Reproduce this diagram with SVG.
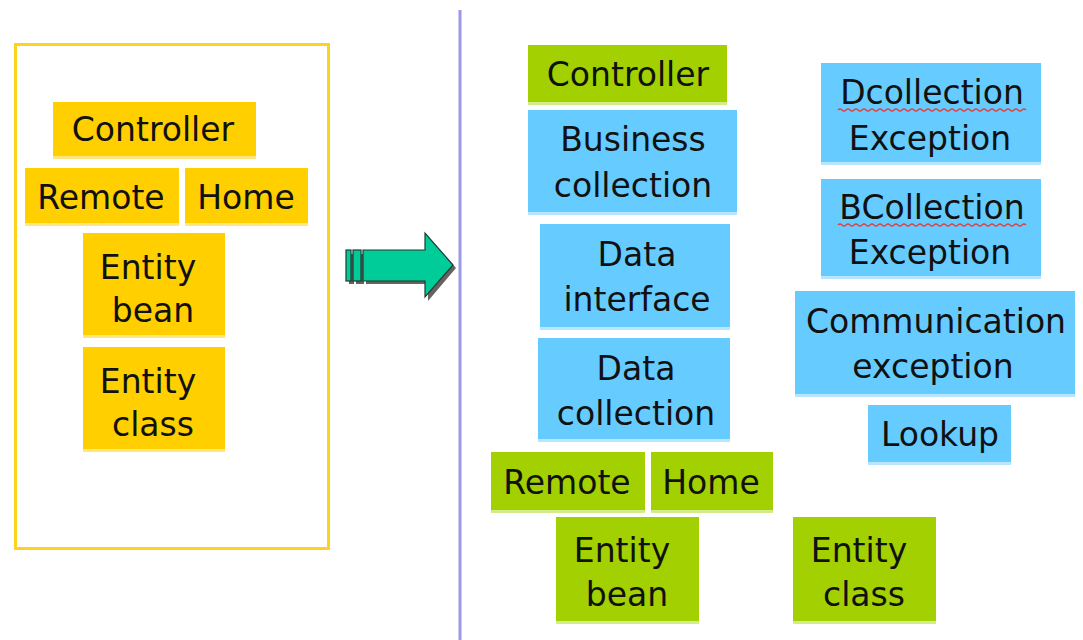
<svg xmlns="http://www.w3.org/2000/svg" width="1083" height="640" viewBox="0 0 1083 640">
  <style>
    .lbl { font-family: "Comic Sans MS", "DejaVu Sans", sans-serif; font-size: 33px; fill: #111; text-anchor: middle; }
    .yel { fill: #FFCF00; }
    .grn { fill: #A2D000; }
    .blu { fill: #66CCFF; }
    .yel-e { fill: #FFE680; }
    .grn-e { fill: #D4EB8A; }
    .blu-e { fill: #B8E6FF; }
    .squig { fill: none; stroke: #E04040; stroke-width: 1.3; }
  </style>
  <rect width="1083" height="640" fill="#FFFFFF"/>

  <!-- left frame -->
  <rect x="15.5" y="44.5" width="313" height="504" fill="none" stroke="#FFD21F" stroke-width="3"/>

  <!-- divider -->
  <line x1="460" y1="10" x2="460" y2="640" stroke="#9A9AE6" stroke-width="3"/>

  <!-- left column -->
  <g id="l-controller">
    <rect class="yel-e" x="53" y="104" width="203" height="55"/>
    <rect class="yel" x="53" y="102" width="203" height="54"/>
    <text class="lbl" x="153" y="141">Controller</text>
  </g>
  <g id="l-remote">
    <rect class="yel-e" x="25" y="170" width="154" height="56"/>
    <rect class="yel" x="25" y="168" width="154" height="55"/>
    <text class="lbl" x="101" y="209">Remote</text>
  </g>
  <g id="l-home">
    <rect class="yel-e" x="185" y="170" width="123" height="56"/>
    <rect class="yel" x="185" y="168" width="123" height="55"/>
    <text class="lbl" x="246" y="209">Home</text>
  </g>
  <g id="l-entity-bean">
    <rect class="yel-e" x="83" y="235" width="142" height="103"/>
    <rect class="yel" x="83" y="233" width="142" height="102"/>
    <text class="lbl" x="148" y="279">Entity</text>
    <text class="lbl" x="153" y="322">bean</text>
  </g>
  <g id="l-entity-class">
    <rect class="yel-e" x="83" y="349" width="142" height="103"/>
    <rect class="yel" x="83" y="347" width="142" height="102"/>
    <text class="lbl" x="148" y="393">Entity</text>
    <text class="lbl" x="153" y="436">class</text>
  </g>

  <!-- transition arrow: drop shadow, then the striped block arrow -->
  <g id="arrow">
    <path d="M366 254 H428 V237 L456 268 L428 301 V284 H366 Z" fill="#6A6060"/>
    <rect x="349" y="254" width="5" height="30" fill="#6A6060"/>
    <rect x="356" y="254" width="8" height="30" fill="#6A6060"/>
    <path d="M363 250 H425 V233 L453 265 L425 297 V281 H363 Z" fill="#00CC99" stroke="#1F3A30" stroke-width="1.2"/>
    <rect x="346" y="250" width="5" height="31" fill="#00CC99" stroke="#1F3A30" stroke-width="1.2"/>
    <rect x="353" y="250" width="8" height="31" fill="#00CC99" stroke="#1F3A30" stroke-width="1.2"/>
  </g>

  <!-- right column, left stack -->
  <g id="r-controller">
    <rect class="grn-e" x="528" y="47" width="199" height="58"/>
    <rect class="grn" x="528" y="45" width="199" height="57"/>
    <text class="lbl" x="628" y="86">Controller</text>
  </g>
  <g id="r-business-collection">
    <rect class="blu-e" x="528" y="112" width="209" height="103"/>
    <rect class="blu" x="528" y="110" width="209" height="102"/>
    <text class="lbl" x="633" y="151">Business</text>
    <text class="lbl" x="633" y="197">collection</text>
  </g>
  <g id="r-data-interface">
    <rect class="blu-e" x="540" y="226" width="190" height="104"/>
    <rect class="blu" x="540" y="224" width="190" height="103"/>
    <text class="lbl" x="637" y="266">Data</text>
    <text class="lbl" x="637" y="311">interface</text>
  </g>
  <g id="r-data-collection">
    <rect class="blu-e" x="538" y="340" width="192" height="102"/>
    <rect class="blu" x="538" y="338" width="192" height="101"/>
    <text class="lbl" x="636" y="380">Data</text>
    <text class="lbl" x="636" y="425">collection</text>
  </g>
  <g id="r-remote">
    <rect class="grn-e" x="491" y="454" width="154" height="59"/>
    <rect class="grn" x="491" y="452" width="154" height="58"/>
    <text class="lbl" x="567" y="494">Remote</text>
  </g>
  <g id="r-home">
    <rect class="grn-e" x="651" y="454" width="122" height="59"/>
    <rect class="grn" x="651" y="452" width="122" height="58"/>
    <text class="lbl" x="711" y="494">Home</text>
  </g>
  <g id="r-entity-bean">
    <rect class="grn-e" x="556" y="519" width="143" height="105"/>
    <rect class="grn" x="556" y="517" width="143" height="104"/>
    <text class="lbl" x="622" y="562">Entity</text>
    <text class="lbl" x="627" y="606">bean</text>
  </g>

  <!-- right column, right stack -->
  <g id="r-dcollection-exception">
    <rect class="blu-e" x="821" y="65" width="220" height="100"/>
    <rect class="blu" x="821" y="63" width="220" height="99"/>
    <text class="lbl" x="932" y="104">Dcollection</text>
    <path class="squig" d="M838 110 q2 -2 4 0 t4 0 t4 0 t4 0 t4 0 t4 0 t4 0 t4 0 t4 0 t4 0 t4 0 t4 0 t4 0 t4 0 t4 0 t4 0 t4 0 t4 0 t4 0 t4 0 t4 0 t4 0 t4 0 t4 0 t4 0 t4 0 t4 0 t4 0 t4 0 t4 0 t4 0 t4 0 t4 0 t4 0 t4 0 t4 0 t4 0 t4 0 t4 0 t4 0 t4 0 t4 0 t4 0 t4 0 t4 0 t4 0 t4 0"/>
    <text class="lbl" x="930" y="150">Exception</text>
  </g>
  <g id="r-bcollection-exception">
    <rect class="blu-e" x="821" y="181" width="220" height="98"/>
    <rect class="blu" x="821" y="179" width="220" height="97"/>
    <text class="lbl" x="932" y="219">BCollection</text>
    <path class="squig" d="M838 225 q2 -2 4 0 t4 0 t4 0 t4 0 t4 0 t4 0 t4 0 t4 0 t4 0 t4 0 t4 0 t4 0 t4 0 t4 0 t4 0 t4 0 t4 0 t4 0 t4 0 t4 0 t4 0 t4 0 t4 0 t4 0 t4 0 t4 0 t4 0 t4 0 t4 0 t4 0 t4 0 t4 0 t4 0 t4 0 t4 0 t4 0 t4 0 t4 0 t4 0 t4 0 t4 0 t4 0 t4 0 t4 0 t4 0 t4 0 t4 0"/>
    <text class="lbl" x="930" y="264">Exception</text>
  </g>
  <g id="r-communication-exception">
    <rect class="blu-e" x="795" y="293" width="280" height="104"/>
    <rect class="blu" x="795" y="291" width="280" height="103"/>
    <text class="lbl" x="936" y="333">Communication</text>
    <text class="lbl" x="933" y="378">exception</text>
  </g>
  <g id="r-lookup">
    <rect class="blu-e" x="868" y="407" width="143" height="58"/>
    <rect class="blu" x="868" y="405" width="143" height="57"/>
    <text class="lbl" x="940" y="446">Lookup</text>
  </g>
  <g id="r-entity-class">
    <rect class="grn-e" x="793" y="519" width="143" height="105"/>
    <rect class="grn" x="793" y="517" width="143" height="104"/>
    <text class="lbl" x="859" y="562">Entity</text>
    <text class="lbl" x="864" y="606">class</text>
  </g>
</svg>
